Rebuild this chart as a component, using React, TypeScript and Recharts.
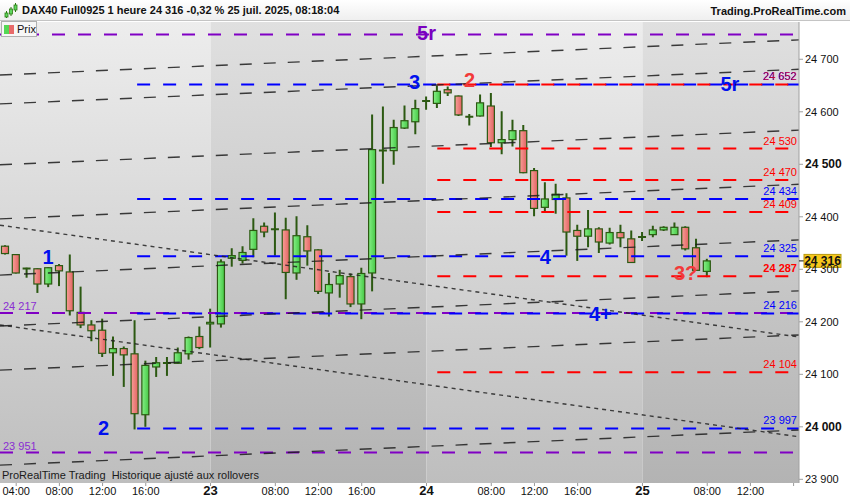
import React from 'react';
import {
  ComposedChart,
  Bar,
  XAxis,
  YAxis,
  ReferenceLine,
  ReferenceArea,
  ReferenceDot,
} from 'recharts';

const FONT = 'Arial, "Liberation Sans", Helvetica, sans-serif';

// ---- time slots: hourly bars, 22–25 July (session 02:00–21:00) ----
const sessionDays = ['22', '23', '24', '25'];
const sessionFirstHour = [3, 2, 2, 2];
const sessionLastHour = [21, 21, 21, 16];

// ---- OHLC of the hourly candles (DAX40 Full0925) ----
const opens = [
  24344, 24328, 24302, 24301, 24272, 24307, 24295, 24218, 24194, 24184,
  24141, 24149, 24139, 24023, 24114, 24121, 24121, 24139, 24172, 24196,
  24196, 24321, 24317, 24338, 24382, 24376, 24375, 24293, 24362, 24337,
  24255, 24272, 24286, 24234, 24293, 24526, 24526, 24569, 24581, 24620,
  24616, 24642, 24630, 24590, 24592, 24611, 24541, 24547, 24564, 24488,
  24418, 24433, 24436, 24374, 24363, 24377, 24350, 24370, 24358, 24361,
  24366, 24375, 24366, 24380, 24341, 24296,
];
const highs = [
  24346, 24329, 24303, 24302, 24304, 24310, 24328, 24267, 24203, 24206,
  24172, 24153, 24203, 24126, 24133, 24133, 24151, 24172, 24191, 24225,
  24319, 24340, 24344, 24397, 24389, 24408, 24398, 24401, 24384, 24338,
  24293, 24299, 24292, 24303, 24595, 24610, 24585, 24612, 24623, 24629,
  24650, 24648, 24631, 24596, 24633, 24636, 24601, 24585, 24575, 24493,
  24466, 24463, 24445, 24385, 24413, 24380, 24379, 24385, 24374, 24371,
  24383, 24382, 24389, 24382, 24358, 24320,
];
const lows = [
  24328, 24292, 24284, 24255, 24266, 24268, 24212, 24188, 24163, 24133,
  24097, 24076, 23995, 24000, 24095, 24097, 24120, 24128, 24148, 24151,
  24189, 24305, 24311, 24323, 24361, 24326, 24243, 24280, 24307, 24253,
  24210, 24246, 24228, 24205, 24258, 24463, 24499, 24567, 24557, 24604,
  24607, 24630, 24592, 24574, 24591, 24533, 24519, 24534, 24483, 24401,
  24409, 24406, 24326, 24316, 24342, 24331, 24347, 24342, 24312, 24354,
  24361, 24373, 24366, 24336, 24297, 24285,
];
const closes = [
  24330, 24293, 24301, 24272, 24303, 24297, 24221, 24194, 24183, 24140,
  24149, 24137, 24025, 24117, 24122, 24122, 24141, 24170, 24151, 24199,
  24314, 24326, 24332, 24374, 24371, 24377, 24294, 24364, 24335, 24258,
  24271, 24288, 24234, 24292, 24528, 24527, 24570, 24583, 24606, 24621,
  24639, 24636, 24594, 24591, 24617, 24541, 24547, 24564, 24484, 24416,
  24434, 24443, 24371, 24363, 24377, 24352, 24370, 24360, 24313, 24362,
  24375, 24380, 24380, 24339, 24298, 24316,
];
const lastPrice = 24316;

// ---- horizontal levels (start = bar index where the level begins) ----
const blueLevels = [24652, 24434, 24325, 24216, 23997];
const blueStart = 12.2;
const redLevels = [24652, 24530, 24470, 24409, 24287, 24104];
const redStart = 40;
const purpleLevels = [24747, 24217, 23951];

// right-hand level tags
const blueTags = ['', '24 434', '24 325', '24 216', '23 997'];
const redTags = ['24 652', '24 530', '24 470', '24 409', '24 287', '24 104'];
const purpleTags = ['', '24 217', '23 951'];

// ---- rising channel lines (price at first and last slot) ----
const channelStart = [24670, 24615, 24499, 24396, 24289, 24192, 24108, 23927];
const channelEnd = [24737, 24681, 24565, 24462, 24356, 24259, 24175, 23994];

// ---- falling dotted lines ----
const fallStart = [24384, 24194];
const fallEnd = [24171, 23981];

// ---- wave count labels ----
const waveText = ['5r', '3', '2', '5r', '1', '2', '4', '4+', '3?'];
const waveAt = [39, 37.9, 43, 67.1, 3.95, 9.1, 50, 55.1, 63];
const wavePrice = [24750, 24657, 24660, 24653, 24323, 23998, 24323, 24215, 24293];
const waveColor = ['purple', 'blue', 'red', 'blue', 'blue', 'blue', 'blue', 'blue', 'red'];

// ---- axis ticks ----
const yTicks = [23900, 24000, 24100, 24200, 24300, 24400, 24500, 24600, 24700];
const xTickSlots = [
  '22 04:00', '22 08:00', '22 12:00', '22 16:00',
  '23 02:00', '23 08:00', '23 12:00', '23 16:00',
  '24 02:00', '24 08:00', '24 12:00', '24 16:00',
  '25 02:00', '25 08:00', '25 12:00', '25 16:00',
];
const xTickLabels = [
  '04:00', '08:00', '12:00', '16:00',
  '23', '08:00', '12:00', '16:00',
  '24', '08:00', '12:00', '16:00',
  '25', '08:00', '12:00', '',
];
const dayStarts = [-0.5, 19, 39, 59, 73.5];

const BLUE = '#0000ff';
const RED = '#ff0000';
const PURPLE = '#8000c4';
const EDGE = '#2c5912';
const colorOf: Record<string, string> = { blue: '#0010ee', red: '#f23a3a', purple: '#7a00c0' };

const slots: string[] = [];
sessionDays.forEach((d, k) => {
  for (let h = sessionFirstHour[k]; h <= sessionLastHour[k]; h++) {
    slots.push(`${d} ${String(h).padStart(2, '0')}:00`);
  }
});
const LAST = slots.length - 0.5;

const rows = slots.map((t, i) => {
  const has = i < opens.length;
  return {
    t,
    i,
    o: has ? opens[i] : undefined,
    h: has ? highs[i] : undefined,
    l: has ? lows[i] : undefined,
    c: has ? closes[i] : undefined,
    range: has ? [lows[i], highs[i]] : undefined,
  };
});

function Candle(props: any) {
  const { x, y, width, height, payload } = props;
  if (!payload || payload.o == null) return null;
  const { o, h, l, c } = payload;
  const top = Math.min(y, y + height);
  const bot = Math.max(y, y + height);
  const span = h - l || 1;
  const py = (v: number) => top + ((h - v) / span) * (bot - top);
  const cx = x + width / 2;
  const yo = py(o);
  const yc = py(c);
  const bTop = Math.min(yo, yc);
  const bBot = Math.max(yo, yc);
  const up = c >= o;
  const doji = bBot - bTop < 1.2;
  return (
    <g>
      <line x1={cx} x2={cx} y1={top} y2={bot} stroke={EDGE} strokeWidth={2} />
      {doji ? (
        <line x1={x} x2={x + width} y1={(bTop + bBot) / 2} y2={(bTop + bBot) / 2} stroke={EDGE} strokeWidth={2} />
      ) : (
        <rect
          x={x + 0.5}
          y={bTop}
          width={width - 1}
          height={Math.max(bBot - bTop, 1.5)}
          fill={up ? 'url(#candleUp)' : 'url(#candleDown)'}
          stroke={EDGE}
          strokeWidth={1.2}
        />
      )}
    </g>
  );
}

function XTick(props: any) {
  const { x, y, payload } = props;
  const idx = xTickSlots.indexOf(payload.value);
  const label = idx >= 0 ? xTickLabels[idx] : '';
  const isDay = label.length === 2;
  return (
    <g>
      <line x1={x} x2={x} y1={y - 3} y2={y} stroke="#9a9a9a" strokeWidth={1} />
      {label && (
        <text
          x={x}
          y={y + 9}
          textAnchor="middle"
          fontFamily={FONT}
          fontSize={isDay ? 13 : 11}
          fontWeight={isDay ? 'bold' : 'normal'}
          fill="#111"
        >
          {label}
        </text>
      )}
    </g>
  );
}

const fmt = (v: number) => {
  const s = String(Math.round(v));
  return s.length > 3 ? `${s.slice(0, s.length - 3)} ${s.slice(-3)}` : s;
};

function YTick(props: any) {
  const { x, y, payload } = props;
  const bold = payload.value % 500 === 0;
  return (
    <text
      x={x}
      y={y + 4}
      textAnchor="start"
      fontFamily={FONT}
      fontSize={bold ? 12 : 11}
      fontWeight={bold ? 'bold' : 'normal'}
      fill="#111"
    >
      {fmt(payload.value)}
    </text>
  );
}

const centerOf = (p: any) => {
  const vb = p.viewBox || {};
  return { cx: (vb.x || 0) + (vb.width || 0) / 2, cy: (vb.y || 0) + (vb.height || 0) / 2 };
};

const rightTag = (text: string, color: string, bold: boolean) => (p: any) => {
  const { cx, cy } = centerOf(p);
  return (
    <text x={cx - 2} y={cy - 4} textAnchor="end" fontFamily={FONT} fontSize={11} fontWeight={bold ? 'bold' : 'normal'} fill={color}>
      {text}
    </text>
  );
};

const mixedTag = (text: string) => (p: any) => {
  const { cx, cy } = centerOf(p);
  return (
    <g>
      <text x={cx - 2.6} y={cy - 4} textAnchor="end" fontFamily={FONT} fontSize={11} fill={BLUE}>{text}</text>
      <text x={cx - 2} y={cy - 4} textAnchor="end" fontFamily={FONT} fontSize={11} fill={RED} fillOpacity={0.75}>{text}</text>
    </g>
  );
};

const leftTag = (text: string) => (p: any) => {
  const { cx, cy } = centerOf(p);
  return (
    <text x={cx + 3} y={cy - 3} textAnchor="start" fontFamily={FONT} fontSize={11} fill="#8a2ed2">
      {text}
    </text>
  );
};

const waveTag = (text: string, color: string) => (p: any) => {
  const { cx, cy } = centerOf(p);
  return (
    <text x={cx} y={cy + 7} textAnchor="middle" fontFamily={FONT} fontSize={20} fontWeight="bold" fill={color}>
      {text}
    </text>
  );
};

const priceTag = (p: any) => {
  const { cx, cy } = centerOf(p);
  return (
    <g>
      <line x1={cx} x2={cx + 5} y1={cy} y2={cy} stroke="#111" strokeWidth={1} />
      <rect x={cx + 5} y={cy - 6.5} width={37} height={13} fill="#f6c81c" stroke="#b89a10" strokeWidth={1} />
      <text x={cx + 23.5} y={cy + 4} textAnchor="middle" fontFamily={FONT} fontSize={12} fontWeight="bold" fill="#111">
        {fmt(lastPrice)}
      </text>
    </g>
  );
};

function HeaderIcon() {
  return (
    <svg width={14} height={16} style={{ position: 'absolute', left: 4, top: 3 }}>
      <line x1={2.5} x2={2.5} y1={8} y2={15} stroke="#2c7a12" strokeWidth={1} />
      <rect x={1} y={10} width={3} height={4} fill="#5fd85f" stroke="#2c7a12" strokeWidth={0.8} />
      <line x1={7} x2={7} y1={4} y2={13} stroke="#2c7a12" strokeWidth={1} />
      <rect x={5.5} y={6} width={3} height={5} fill="#5fd85f" stroke="#2c7a12" strokeWidth={0.8} />
      <line x1={11.5} x2={11.5} y1={0} y2={9} stroke="#2c7a12" strokeWidth={1} />
      <rect x={10} y={2} width={3} height={5} fill="#5fd85f" stroke="#2c7a12" strokeWidth={0.8} />
    </svg>
  );
}

export default function App() {
  return (
    <div
      style={{
        position: 'absolute',
        left: 0,
        top: 0,
        width: 850,
        height: 500,
        background: '#ffffff',
        overflow: 'hidden',
        fontFamily: FONT,
      }}
    >
      <ComposedChart width={850} height={500} data={rows} margin={{ top: 22, right: 0, bottom: 0, left: 0 }}>
        <defs>
          <linearGradient id="dayLight" x1="0" y1="0" x2="0" y2="1">
            <stop offset="0%" stopColor="#ededed" />
            <stop offset="100%" stopColor="#bebebe" />
          </linearGradient>
          <linearGradient id="dayDark" x1="0" y1="0" x2="0" y2="1">
            <stop offset="0%" stopColor="#e0e0e0" />
            <stop offset="100%" stopColor="#b3b3b3" />
          </linearGradient>
          <linearGradient id="candleUp" x1="0" y1="0" x2="1" y2="0">
            <stop offset="0%" stopColor="#86f086" />
            <stop offset="100%" stopColor="#46c846" />
          </linearGradient>
          <linearGradient id="candleDown" x1="0" y1="0" x2="1" y2="0">
            <stop offset="0%" stopColor="#f7a098" />
            <stop offset="100%" stopColor="#e26262" />
          </linearGradient>
        </defs>

        <XAxis
          xAxisId="c"
          dataKey="t"
          type="category"
          height={17}
          ticks={xTickSlots}
          interval={0}
          tick={<XTick />}
          tickLine={false}
          axisLine={false}
          tickSize={3}
          tickMargin={0}
        />
        <XAxis xAxisId="n" dataKey="i" type="number" domain={[-0.5, LAST]} hide allowDataOverflow />
        <YAxis
          orientation="right"
          width={51}
          type="number"
          domain={[23893, 24771]}
          ticks={yTicks}
          tick={<YTick />}
          tickSize={4}
          tickMargin={2}
          stroke="#a0a0a0"
          allowDataOverflow
        />

        {/* session background bands */}
        {dayStarts.slice(0, -1).map((x1, k) => (
          <ReferenceArea
            key={`day-${k}`}
            xAxisId="n"
            x1={x1}
            x2={dayStarts[k + 1]}
            y1={23893}
            y2={24771}
            fill={k % 2 === 0 ? 'url(#dayLight)' : 'url(#dayDark)'}
            fillOpacity={1}
            stroke="none"
            ifOverflow="visible"
          />
        ))}

        {/* horizontal levels */}
        {purpleLevels.map((v, k) => (
          <ReferenceLine
            key={`pl-${k}`}
            xAxisId="n"
            segment={[{ x: -0.5, y: v }, { x: LAST, y: v }]}
            stroke={PURPLE}
            strokeWidth={2}
            strokeDasharray="13 13"
            ifOverflow="visible"
          />
        ))}
        {blueLevels.map((v, k) => (
          <ReferenceLine
            key={`bl-${k}`}
            xAxisId="n"
            segment={[{ x: blueStart, y: v }, { x: LAST, y: v }]}
            stroke={BLUE}
            strokeWidth={2}
            strokeDasharray="13 13"
            ifOverflow="visible"
          />
        ))}
        {redLevels.map((v, k) => (
          <ReferenceLine
            key={`rl-${k}`}
            xAxisId="n"
            segment={[{ x: redStart, y: v }, { x: LAST, y: v }]}
            stroke={RED}
            strokeWidth={2}
            strokeDasharray="13 13"
            ifOverflow="visible"
          />
        ))}

        <Bar
          xAxisId="c"
          dataKey="range"
          barSize={8}
          shape={<Candle />}
          isAnimationActive={false}
        />

        {/* rising channel and falling trend lines */}
        {channelStart.map((v, k) => (
          <ReferenceLine
            key={`ch-${k}`}
            xAxisId="n"
            segment={[{ x: -0.5, y: v }, { x: LAST, y: channelEnd[k] }]}
            stroke="#1c1c1c"
            strokeOpacity={0.85}
            strokeWidth={1.4}
            strokeDasharray="12 12"
            ifOverflow="visible"
          />
        ))}
        {fallStart.map((v, k) => (
          <ReferenceLine
            key={`fa-${k}`}
            xAxisId="n"
            segment={[{ x: -0.5, y: v }, { x: LAST, y: fallEnd[k] }]}
            stroke="#222"
            strokeOpacity={0.85}
            strokeWidth={1.4}
            strokeDasharray="4 4"
            ifOverflow="visible"
          />
        ))}

        {/* level tags */}
        {redLevels.map((v, k) => (
          <ReferenceDot
            key={`rt-${k}`}
            xAxisId="n"
            x={LAST}
            y={v}
            r={0}
            fill="none"
            stroke="none"
            ifOverflow="visible"
            label={k === 0 ? mixedTag(redTags[k]) : rightTag(redTags[k], RED, redTags[k] === '24 287')}
          />
        ))}
        {blueLevels.map((v, k) =>
          blueTags[k] ? (
            <ReferenceDot
              key={`bt-${k}`}
              xAxisId="n"
              x={LAST}
              y={v}
              r={0}
              fill="none"
              stroke="none"
              ifOverflow="visible"
              label={rightTag(blueTags[k], BLUE, false)}
            />
          ) : null
        )}
        {purpleLevels.map((v, k) =>
          purpleTags[k] ? (
            <ReferenceDot
              key={`pt-${k}`}
              xAxisId="n"
              x={-0.5}
              y={v}
              r={0}
              fill="none"
              stroke="none"
              ifOverflow="visible"
              label={leftTag(purpleTags[k])}
            />
          ) : null
        )}

        {/* wave count */}
        {waveText.map((t, k) => (
          <ReferenceDot
            key={`wv-${k}`}
            xAxisId="n"
            x={waveAt[k]}
            y={wavePrice[k]}
            r={0}
            fill="none"
            stroke="none"
            ifOverflow="visible"
            label={waveTag(t, colorOf[waveColor[k]])}
          />
        ))}

        {/* last price marker */}
        <ReferenceDot
          xAxisId="n"
          x={LAST}
          y={lastPrice}
          r={0}
          fill="none"
          stroke="none"
          ifOverflow="visible"
          label={priceTag}
        />
      </ComposedChart>

      {/* title bar */}
      <div
        style={{
          position: 'absolute',
          left: 0,
          top: 0,
          width: 850,
          height: 21,
          background: 'linear-gradient(#ffffff, #efefef)',
          borderBottom: '1px solid #c4c4c4',
          boxSizing: 'border-box',
        }}
      >
        <HeaderIcon />
        <div style={{ position: 'absolute', left: 22, top: 4, fontSize: 11, fontWeight: 'bold', color: '#111', whiteSpace: 'nowrap' }}>
          DAX40 Full0925 1 heure 24 316 -0,32 % 25 juil. 2025, 08:18:04
        </div>
        <div style={{ position: 'absolute', right: 4, top: 5, fontSize: 11, fontWeight: 'bold', color: '#111', whiteSpace: 'nowrap' }}>
          Trading.ProRealTime.com
        </div>
      </div>

      {/* series legend */}
      <div
        style={{
          position: 'absolute',
          left: 1,
          top: 21,
          width: 36,
          height: 16,
          background: '#f7f7f7',
          border: '1px solid #b0b0b0',
          boxSizing: 'border-box',
        }}
      >
        <div style={{ position: 'absolute', left: 2, top: 3, width: 5, height: 9, background: '#55d855' }} />
        <div style={{ position: 'absolute', left: 7, top: 3, width: 5, height: 9, background: '#e86a6a' }} />
        <div style={{ position: 'absolute', left: 15, top: 1, fontSize: 11, color: '#111' }}>Prix</div>
      </div>

      {/* footer note */}
      <div style={{ position: 'absolute', left: 2, top: 469, fontSize: 11, color: '#1a1a1a', whiteSpace: 'nowrap' }}>
        ProRealTime Trading&nbsp;&nbsp;Historique ajusté aux rollovers
      </div>
    </div>
  );
}
